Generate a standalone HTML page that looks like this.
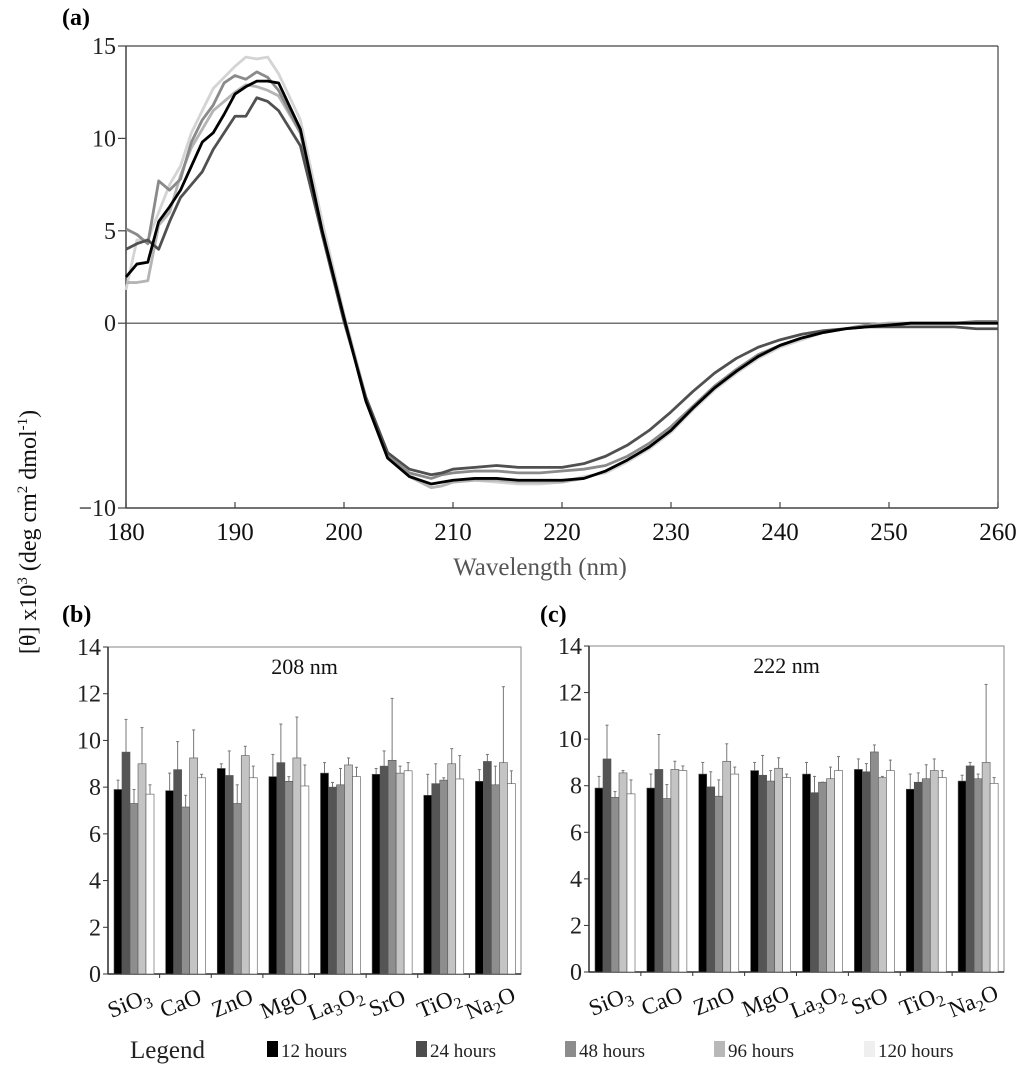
<!DOCTYPE html>
<html><head><meta charset="utf-8">
<style>
html,body{margin:0;padding:0;background:#fff;}
svg{display:block;font-family:"Liberation Serif",serif;}
</style></head>
<body>
<svg id="fig" width="1024" height="1066" viewBox="0 0 1024 1066" xmlns="http://www.w3.org/2000/svg">
<text x="62" y="25" font-size="24" font-weight="bold">(a)</text>
<text x="62" y="622" font-size="24" font-weight="bold">(b)</text>
<text x="540" y="622" font-size="24" font-weight="bold">(c)</text>
<text transform="translate(36,532) rotate(-90)" text-anchor="middle" font-size="24" fill="#111">[θ] x10<tspan dy="-9" font-size="15">3</tspan><tspan dy="9"> (deg cm</tspan><tspan dy="-9" font-size="15">2</tspan><tspan dy="9"> dmol</tspan><tspan dy="-9" font-size="15">-1</tspan><tspan dy="9">)</tspan></text>
<text x="540" y="575" text-anchor="middle" font-size="25" fill="#555">Wavelength (nm)</text>
<g id="pa"></g>
<g id="pb"></g>
<g id="pc"></g>
<g id="legend">
<text x="130" y="1058" font-size="25" fill="#222">Legend</text>
</g>
</svg>
<script>
const wl = [180,181,182,183,184,185,186,187,188,189,190,191,192,193,194,196,198,200,202,204,206,208,209,210,212,214,216,218,220,222,224,226,228,230,232,234,236,238,240,242,244,246,248,250,252,254,256,258,260];
const s12 = [2.5,3.2,3.3,5.5,6.3,7.2,8.5,9.8,10.3,11.3,12.4,12.8,13.1,13.1,13.0,10.5,5.0,0.3,-4.2,-7.3,-8.3,-8.7,-8.6,-8.5,-8.4,-8.4,-8.5,-8.5,-8.5,-8.4,-8.0,-7.4,-6.7,-5.8,-4.6,-3.5,-2.6,-1.8,-1.2,-0.8,-0.5,-0.3,-0.2,-0.1,0,0,0,0,0];
const s24 = [4.0,4.3,4.5,4.0,5.5,6.8,7.5,8.2,9.4,10.3,11.2,11.2,12.2,12.0,11.5,9.6,4.8,0.1,-4.0,-7.0,-7.9,-8.2,-8.1,-7.9,-7.8,-7.7,-7.8,-7.8,-7.8,-7.6,-7.2,-6.6,-5.8,-4.8,-3.7,-2.7,-1.9,-1.3,-0.9,-0.6,-0.4,-0.3,-0.2,-0.2,-0.2,-0.2,-0.2,-0.3,-0.3];
const s48 = [5.1,4.8,4.3,7.7,7.2,7.8,9.8,11.0,11.8,13.0,13.4,13.2,13.6,13.3,12.6,10.3,5.0,0.3,-4.2,-7.2,-8.1,-8.4,-8.2,-8.1,-8.0,-8.0,-8.1,-8.1,-8.0,-7.9,-7.7,-7.2,-6.5,-5.6,-4.5,-3.4,-2.5,-1.7,-1.2,-0.8,-0.5,-0.3,-0.1,-0.1,0,0,0,0.1,0.1];
const s96 = [2.2,2.2,2.3,5.3,6.0,8.0,9.5,10.5,11.5,12.0,12.5,12.9,12.8,12.6,12.3,10.3,5.0,0.4,-4.0,-7.1,-8.3,-8.9,-8.8,-8.6,-8.5,-8.5,-8.6,-8.6,-8.6,-8.4,-8.0,-7.4,-6.7,-5.8,-4.6,-3.5,-2.6,-1.8,-1.2,-0.8,-0.5,-0.3,-0.1,0,0,0,0,0,0];
const s120 = [1.8,4.5,4.5,6.0,7.5,8.5,10.3,11.5,12.7,13.3,13.9,14.4,14.3,14.4,13.5,11.0,5.5,0.5,-4.0,-7.0,-8.2,-8.9,-8.8,-8.6,-8.5,-8.6,-8.7,-8.7,-8.6,-8.3,-8.1,-7.5,-6.8,-5.9,-4.7,-3.6,-2.7,-1.9,-1.3,-0.9,-0.5,-0.3,-0.1,0,0,0,0,0,0];
const xTicksA = [180,190,200,210,220,230,240,250,260];
const yTicksA = [15,10,5,0,-10];
const yTickLabelsA = ["15","10","5","0","\u221210"];

const categories = ["SiO3","CaO","ZnO","MgO","La3O2","SrO","TiO2","Na2O"];
const seriesNames = ["12 hours","24 hours","48 hours","96 hours","120 hours"];
const b208_12 = [7.9,7.85,8.8,8.45,8.6,8.55,7.65,8.25];
const b208_24 = [9.5,8.75,8.5,9.05,8.0,8.9,8.15,9.1];
const b208_48 = [7.3,7.15,7.3,8.25,8.1,9.15,8.3,8.1];
const b208_96 = [9.0,9.25,9.35,9.25,8.95,8.6,9.0,9.05];
const b208_120 = [7.7,8.4,8.4,8.05,8.45,8.7,8.35,8.15];
const e208_12 = [0.4,0.75,0.2,0.95,0.45,0.25,0.9,0.5];
const e208_24 = [1.4,1.2,1.05,1.65,0.2,0.65,0.85,0.3];
const e208_48 = [0.6,0.5,0.8,0.2,0.7,2.65,0.1,0.8];
const e208_96 = [1.55,1.2,0.4,1.75,0.3,0.3,0.65,3.25];
const e208_120 = [0.4,0.15,0.5,0.9,0.4,0.35,1.0,0.55];
const b222_12 = [7.9,7.9,8.5,8.65,8.5,8.7,7.85,8.2];
const b222_24 = [9.15,8.7,7.95,8.45,7.7,8.6,8.15,8.85];
const b222_48 = [7.5,7.45,7.55,8.2,8.15,9.45,8.3,8.3];
const b222_96 = [8.55,8.7,9.05,8.75,8.3,8.35,8.65,9.0];
const b222_120 = [7.65,8.65,8.5,8.35,8.65,8.65,8.35,8.1];
const e222_12 = [0.5,0.6,0.5,0.35,0.5,0.45,0.65,0.25];
const e222_24 = [1.45,1.5,0.65,0.85,0.7,0.35,0.4,0.15];
const e222_48 = [0.25,0.6,0.7,0.45,0.0,0.3,0.6,0.2];
const e222_96 = [0.1,0.35,0.75,0.45,0.5,0.05,0.5,3.35];
const e222_120 = [0.6,0.2,0.3,0.15,0.6,0.45,0.3,0.25];
const yTicksB = [0,2,4,6,8,10,12,14];

const NS="http://www.w3.org/2000/svg";
function mk(tag, attrs, parent){const e=document.createElementNS(NS,tag);for(const k in attrs)e.setAttribute(k,attrs[k]);parent.appendChild(e);return e;}

// Panel a
(function(){
  const g=document.getElementById('pa');
  const L=126,R=998,T=46,B=508;
  const xs=v=>L+(v-180)/(260-180)*(R-L);
  const ys=v=>T+(15-v)/(15-(-10))*(B-T);
  let e;
  e=mk('line',{x1:L,y1:T,x2:R,y2:T,stroke:'#444','stroke-width':1.2},g);
  
  
  e=mk('line',{x1:L,y1:T,x2:L,y2:B,stroke:'#444','stroke-width':1.5},g);
  
  
  e=mk('line',{x1:R,y1:T,x2:R,y2:B,stroke:'#444','stroke-width':1.2},g);
  
  
  e=mk('line',{x1:L,y1:B,x2:R,y2:B,stroke:'#444','stroke-width':1.5},g);
  
  
  e=mk('line',{x1:L,y1:ys(0),x2:R,y2:ys(0),stroke:'#444','stroke-width':1.2},g);
  
  
  xTicksA.forEach(t=>{
    const l=mk('line',{x1:xs(t),y1:B,x2:xs(t),y2:B-6,stroke:'#444','stroke-width':1.2},g);
    
    
    const tx=mk('text',{x:xs(t),y:B+32,'text-anchor':'middle','font-size':25,fill:'#111'},g);
    tx.textContent=t;
    
    
  });
  yTicksA.forEach((t,i)=>{
    const l=mk('line',{x1:L-8,y1:ys(t),x2:L,y2:ys(t),stroke:'#444','stroke-width':1.2},g);
    
    
    const tx=mk('text',{x:L-10,y:ys(t)+8,'text-anchor':'end','font-size':24,fill:'#222'},g);
    tx.textContent=yTickLabelsA[i];
    
    
  });
  const series=[[s120,'#d4d4d4','series-120-hours'],[s96,'#b4b4b4','series-96-hours'],[s48,'#8a8a8a','series-48-hours'],[s24,'#505050','series-24-hours'],[s12,'#000','series-12-hours']];
  series.forEach(([d,c,n])=>{
    const p=mk('polyline',{points:d.map((v,i)=>xs(wl[i])+','+ys(v)).join(' '),fill:'none',stroke:c,'stroke-width':2.8,'stroke-linejoin':'round'},g);
    
    
  });
})();

const barColors=['#000','#555','#8e8e8e','#c4c4c4','#fff'];
function barChart(id,L,R,T,B,title,vals,errs){
  const g=document.getElementById(id);
  const ys=v=>B-v/14*(B-T);
  const cw=(R-L)/categories.length;
  const bw=8;
  let e=mk('rect',{x:L,y:T,width:R-L,height:B-T,fill:'none',stroke:'#999','stroke-width':1.2},g);
  
  
  e=mk('line',{x1:L,y1:T,x2:L,y2:B,stroke:'#333','stroke-width':1.5},g);
  
  
  e=mk('line',{x1:L,y1:B,x2:R,y2:B,stroke:'#333','stroke-width':1.5},g);
  
  
  yTicksB.forEach(t=>{
    const l=mk('line',{x1:L-5,y1:ys(t),x2:L,y2:ys(t),stroke:'#333'},g);
    
    
    const tx=mk('text',{x:L-7,y:ys(t)+8,'text-anchor':'end','font-size':24,fill:'#222'},g);
    tx.textContent=t;
    
    
  });
  const tt=mk('text',{x:(L+R)/2-10,y:T+27,'text-anchor':'middle','font-size':22,fill:'#111'},g);
  tt.textContent=title;
  
  
  categories.forEach((c,ci)=>{
    const x0=L+ci*cw+6;
    if(ci>0){const l=mk('line',{x1:L+ci*cw,y1:B,x2:L+ci*cw,y2:B+4,stroke:'#333'},g);
      
      }
    vals.forEach((arr,si)=>{
      const v=arr[ci], er=errs[si][ci];
      const x=x0+si*bw;
      const ex=x+bw/2;
      const el=mk('line',{x1:ex,y1:ys(v),x2:ex,y2:ys(v+er),stroke:'#777','stroke-width':1},g);
      
      
      const ec=mk('line',{x1:ex-1.5,y1:ys(v+er),x2:ex+1.5,y2:ys(v+er),stroke:'#777','stroke-width':1},g);
      
      
      const r=mk('rect',{x:x,y:ys(v),width:bw,height:B-ys(v),fill:barColors[si],stroke:'#555','stroke-width':0.6},g);
      
      
    });
    const cx=L+ci*cw+cw/2;
    const m=c.match(/^([A-Z][a-z]?)(\d?)([A-Z][a-z]?)(\d?)$/);
    const tx=mk('text',{'text-anchor':'middle','font-size':23,fill:'#111',transform:'translate('+(cx-2)+','+(B+36)+') rotate(-22)'},g);
    
    
    let html=m[1];
    if(m[2]) html+='<tspan dy="5" font-size="16">'+m[2]+'</tspan><tspan dy="-5">'+m[3]+'</tspan>'; else html+=m[3];
    if(m[4]) html+='<tspan dy="5" font-size="16">'+m[4]+'</tspan>';
    tx.innerHTML=html;
  });
}
barChart('pb',108,521,647,974,'208 nm',[b208_12,b208_24,b208_48,b208_96,b208_120],[e208_12,e208_24,e208_48,e208_96,e208_120]);
barChart('pc',589,1004,646,972,'222 nm',[b222_12,b222_24,b222_48,b222_96,b222_120],[e222_12,e222_24,e222_48,e222_96,e222_120]);

(function(){
  const g=document.getElementById('legend');
  const lx=[267,416,565,714,864];
  const lc=['#000','#4d4d4d','#8c8c8c','#b8b8b8','#efefef'];
  seriesNames.forEach((n,i)=>{
    const r=mk('rect',{x:lx[i],y:1041,width:11,height:16,fill:lc[i]},g);
    
    
    const t=mk('text',{x:lx[i]+14,y:1057,'font-size':19,fill:'#222'},g);
    t.textContent=n;
    
    
  });
})();
</script>
</body></html>
